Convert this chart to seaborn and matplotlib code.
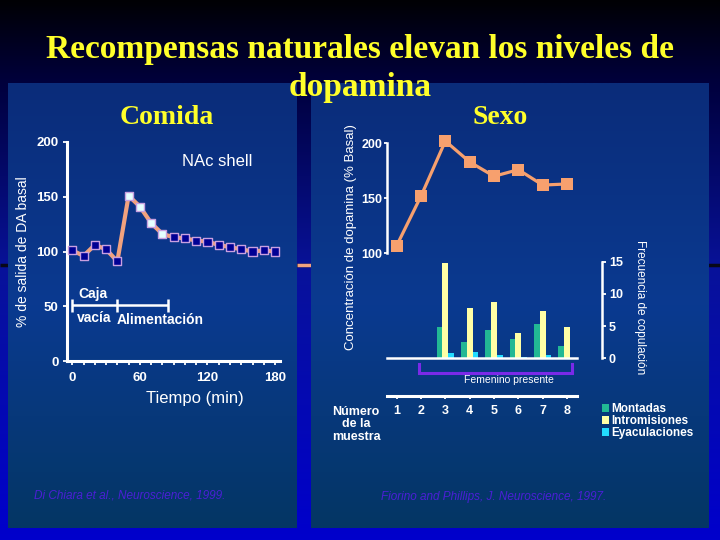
import numpy as np
import pandas as pd
import matplotlib
matplotlib.use("Agg")
import matplotlib.pyplot as plt
from matplotlib.colors import LinearSegmentedColormap
from matplotlib.patches import Patch
import seaborn as sns

# ---------------- data ----------------
tiempo_min = list(range(0, 181, 10))
da_comida = [101, 96, 106, 102, 91, 151, 141, 126, 116, 113, 112, 110, 109, 106, 104, 102, 100, 101, 100]
fase_comida = ["basal"] * 5 + ["alimentacion"] * 4 + ["post"] * 10
comida_xticks = [0, 60, 120, 180]
comida_yticks = [0, 50, 100, 150, 200]
fases_limites = [0, 40, 85]

muestra = [1, 2, 3, 4, 5, 6, 7, 8]
da_sexo = [107, 152, 202, 183, 170, 176, 162, 163]
sexo_yticks = [100, 150, 200]
barras_muestra = [3, 4, 5, 6, 7, 8]
montadas = [4.9, 2.5, 4.4, 3.0, 5.3, 2.0]
intromisiones = [14.8, 7.8, 8.8, 3.9, 7.3, 4.9]
eyaculaciones = [0.9, 1.0, 0.55, 0.25, 0.55, 0.12]
tipos = ["Montadas", "Intromisiones", "Eyaculaciones"]
frec_yticks = [0, 5, 10, 15]
femenino_presente = [1.92, 8.2]

# ---------------- style ----------------
plt.rcParams["font.family"] = ["Liberation Sans", "DejaVu Sans"]
plt.rcParams["font.weight"] = "bold"
WHITE = "white"
YELLOW = "#ffff2a"
SALMON = "#f2a27e"
SALMON2 = "#f7a06e"
NAVY = "#000094"
LIGHT = "#e4ffff"
LAV = "#c8a0e0"
PURPLE = "#7a2ae8"
CITE = "#4b1fd6"
bar_colors = {"Montadas": "#22b894", "Intromisiones": "#ffffa6", "Eyaculaciones": "#22dcff"}

W, H = 720, 540


def rect(l, t, r, b):
    return [l / W, 1 - b / H, (r - l) / W, (b - t) / H]


def fx(x):
    return x / W


def fy(y):
    return 1 - y / H


fig = plt.figure(figsize=(7.2, 5.4), dpi=100)

# ---------------- background ----------------
bg = fig.add_axes([0, 0, 1, 1], zorder=-10)
grad = np.linspace(0, 1, 256).reshape(-1, 1)
cm_bg = LinearSegmentedColormap.from_list(
    "bg", [(0, "#000004"), (0.15, "#00003c"), (0.5, "#08129a"), (1, "#0000cc")])
bg.imshow(grad, cmap=cm_bg, extent=(0, W, H, 0), aspect="auto", zorder=0)
bg.hlines(265, 0, W, color="#080818", lw=2.5, zorder=1)
bg.hlines(265, 297, 311, color=SALMON, lw=2.5, zorder=1.5)
cm_pan = LinearSegmentedColormap.from_list("pan", ["#0b2c7a", "#0a3a90", "#043664"])
for (l, r) in [(8, 297), (311, 709)]:
    bg.imshow(grad, cmap=cm_pan, extent=(l, r, 528, 83), aspect="auto", zorder=2)
bg.set_xlim(0, W)
bg.set_ylim(H, 0)
bg.axis("off")

# ---------------- titles ----------------
tfont = dict(family=["Liberation Serif", "DejaVu Serif"], weight="bold", color=YELLOW)
fig.text(fx(360), fy(58), "Recompensas naturales elevan los niveles de", ha="center",
         va="baseline", fontsize=24, **tfont)
fig.text(fx(360), fy(96), "dopamina", ha="center", va="baseline", fontsize=24, **tfont)
fig.text(fx(166.7), fy(118), "Comida", ha="center", va="center", fontsize=20, **tfont)
fig.text(fx(500), fy(118), "Sexo", ha="center", va="center", fontsize=20, **tfont)

# ---------------- left chart: Comida ----------------
L = fig.add_axes(rect(67, 142, 280, 361))
L.set_facecolor("none")
df_c = pd.DataFrame({"t": tiempo_min, "da": da_comida, "fase": fase_comida})
sns.lineplot(data=df_c, x="t", y="da", color=SALMON, lw=3, ax=L, zorder=2)
sns.scatterplot(data=df_c, x="t", y="da", hue="fase",
                palette={"basal": NAVY, "alimentacion": LIGHT, "post": NAVY},
                marker="s", s=34, edgecolor=LAV, linewidth=1, legend=False,
                ax=L, zorder=3, clip_on=False)
L.set_xlim(-4.7, 184.4)
L.set_ylim(0, 200)
for s in ["top", "right"]:
    L.spines[s].set_visible(False)
for s in ["left", "bottom"]:
    L.spines[s].set_color(WHITE)
    L.spines[s].set_linewidth(2.2)
L.set_xticks(comida_xticks)
L.set_xticks(tiempo_min, minor=True)
L.set_yticks(comida_yticks)
L.tick_params(axis="both", which="both", colors=WHITE, length=3, width=1.3,
              labelsize=9.5, direction="out")
L.tick_params(axis="x", pad=5)
L.tick_params(axis="y", pad=3)
L.set_xlabel("Tiempo (min)", fontsize=12, color=WHITE, fontweight="normal")
L.xaxis.set_label_coords((195 - 67) / 213, (361 - 398) / 219)
L.xaxis.label.set_va("center")
L.set_ylabel("% de salida de DA basal", fontsize=10, color=WHITE)
L.yaxis.set_label_coords((23 - 67) / 213, (361 - 252) / 219)
L.yaxis.label.set_va("center")

# phase bracket
L.hlines(51, fases_limites[0], fases_limites[-1], color=WHITE, lw=1.8, clip_on=False)
L.vlines(fases_limites, 45, 57, color=WHITE, lw=1.8, clip_on=False)
L.text(5, 61, "Caja", color=WHITE, fontsize=10, va="center", ha="left")
L.text(4.3, 39.5, "vacía", color=WHITE, fontsize=10, va="center", ha="left")
L.text(39.7, 37.4, "Alimentación", color=WHITE, fontsize=10, va="center", ha="left")
L.text(129, 182, "NAc shell", color=WHITE, fontsize=12, va="center", ha="center",
       fontweight="normal")

# ---------------- right chart: Sexo ----------------
XL = (0.614, 8.41)
R = fig.add_axes(rect(387.3, 135, 577, 358.5))
R.set_facecolor("none")
df_s = pd.DataFrame({"muestra": muestra, "da": da_sexo})
sns.lineplot(data=df_s, x="muestra", y="da", color=SALMON2, lw=2.3, marker="s",
             markersize=8.5, markeredgewidth=0, ax=R, clip_on=False)
R.set_xlim(*XL)
R.set_ylim(4.4, 207.5)
for s in ["top", "right", "bottom"]:
    R.spines[s].set_visible(False)
R.spines["left"].set_color(WHITE)
R.spines["left"].set_linewidth(1.8)
R.spines["left"].set_bounds(100, 200)
R.set_yticks(sexo_yticks)
R.set_xticks([])
R.tick_params(axis="y", colors=WHITE, length=2, width=1.3, labelsize=9, pad=1.5)
R.set_xlabel("")
R.set_ylabel("Concentración de dopamina (% Basal)", fontsize=9.5, color=WHITE)
R.yaxis.set_label_coords((351 - 387.3) / 189.7, (358.5 - 237) / 223.5)
R.yaxis.label.set_va("center")

B = R.twinx()
df_b = pd.DataFrame({
    "muestra": barras_muestra * 3,
    "freq": montadas + intromisiones + eyaculaciones,
    "tipo": [tipos[0]] * 6 + [tipos[1]] * 6 + [tipos[2]] * 6,
})
sns.barplot(data=df_b, x="muestra", y="freq", hue="tipo", hue_order=tipos,
            palette=bar_colors, native_scale=True, width=0.72, gap=0,
            errorbar=None, legend=False, saturation=1, linewidth=0, ax=B)
B.set_xlim(*XL)
B.set_ylim(0, 34.6)
for s in ["top", "left"]:
    B.spines[s].set_visible(False)
B.spines["bottom"].set_color(WHITE)
B.spines["bottom"].set_linewidth(1.8)
B.spines["right"].set_color(WHITE)
B.spines["right"].set_linewidth(1.8)
B.spines["right"].set_position(("outward", 18))
B.spines["right"].set_bounds(0, 15)
B.set_yticks(frec_yticks)
B.set_xticks([])
B.set_xlabel("")
B.tick_params(axis="y", colors=WHITE, length=3, width=1.3, labelsize=9, pad=2)
B.set_ylabel("Frecuencia de copulación", fontsize=8.5, color=WHITE, rotation=270)
B.yaxis.set_label_coords((640 - 387.3) / 189.7, (358.5 - 307.5) / 223.5)
B.yaxis.label.set_va("center")

# female-present bracket
f0, f1 = femenino_presente
B.plot([f0, f0, f1, f1], [-0.85, -2.25, -2.25, -0.85], color=PURPLE, lw=2.2,
       clip_on=False, solid_joinstyle="miter")
B.text(5.6, -3.35, "Femenino presente", color=WHITE, fontsize=7.5, ha="center",
       va="center", fontweight="normal", clip_on=False)

# sample-number axis
N = fig.add_axes(rect(387.3, 380, 577, 395.7))
N.set_facecolor("none")
N.set_xlim(*XL)
N.set_yticks([])
for s in ["top", "right", "left"]:
    N.spines[s].set_visible(False)
N.spines["bottom"].set_color(WHITE)
N.spines["bottom"].set_linewidth(2.2)
N.set_xticks(muestra)
N.set_xticklabels([str(m) for m in muestra])
N.tick_params(axis="x", colors=WHITE, length=2.5, width=1.3, labelsize=9, pad=4.5)

fig.text(fx(356), fy(424.3), "Número\nde la\nmuestra", color=WHITE, fontsize=9,
         ha="center", va="center", linespacing=1.05)

# legend
handles = [Patch(facecolor=bar_colors[t], edgecolor="none", label=t) for t in tipos]
fig.legend(handles=handles, loc="upper left", bbox_to_anchor=(fx(602), fy(403)),
           frameon=False, prop={"weight": "bold", "size": 8.5}, labelcolor=WHITE,
           handlelength=0.6, handleheight=0.6, handletextpad=0.2,
           labelspacing=0.0, borderpad=0, borderaxespad=0)

# citations
fig.text(fx(129.5), fy(496), "Di Chiara et al., Neuroscience, 1999.", color=CITE,
         fontsize=8.5, style="italic", fontweight="normal", ha="center", va="center")
fig.text(fx(494), fy(497), "Fiorino and Phillips, J. Neuroscience, 1997.", color=CITE,
         fontsize=8.5, style="italic", fontweight="normal", ha="center", va="center")

fig.savefig("out.png", dpi=100)
